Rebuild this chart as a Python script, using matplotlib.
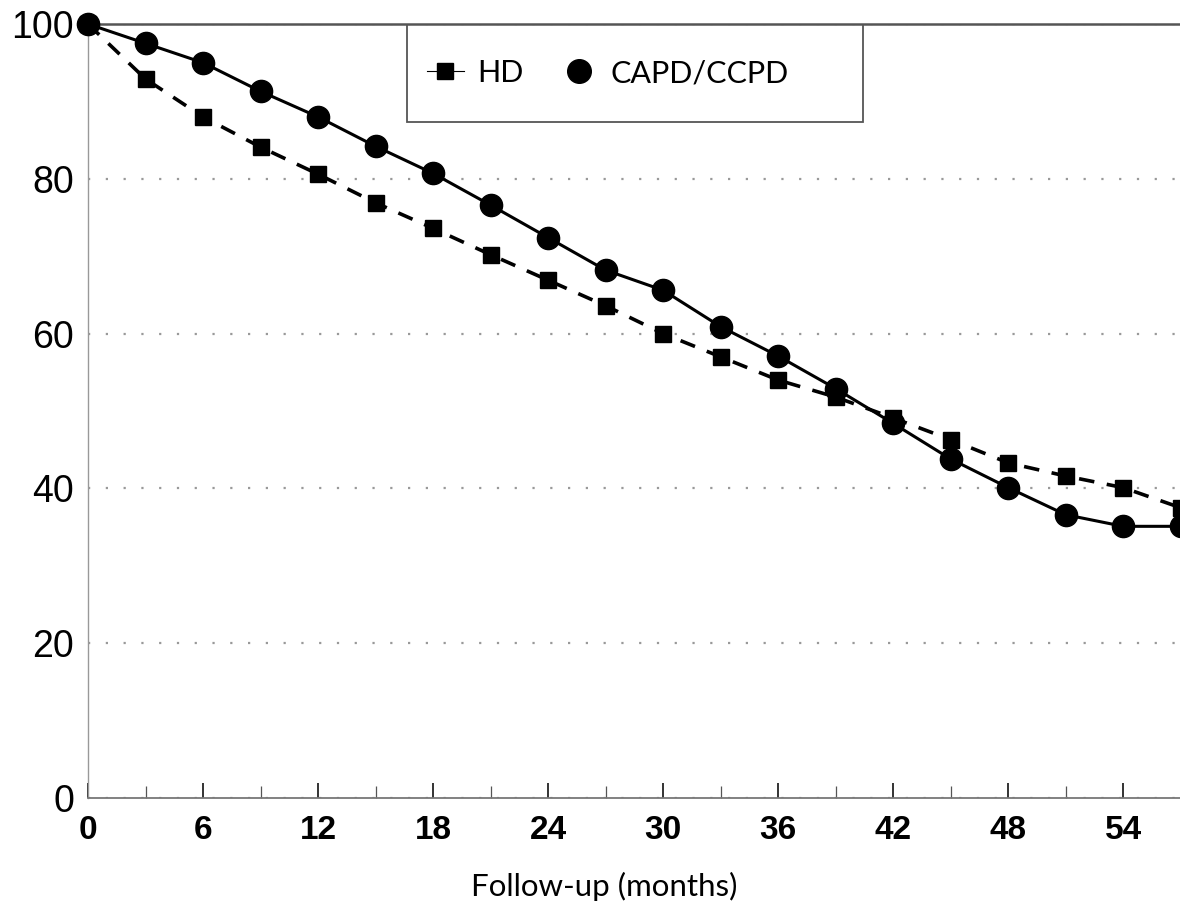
"""
Survival curves: HD vs CAPD/CCPD over follow-up months
"""

import matplotlib.pyplot as plt
from matplotlib.lines import Line2D
from matplotlib.patches import Rectangle
from matplotlib.ticker import MultipleLocator

# Data

MONTHS = [0, 3, 6, 9, 12, 15, 18, 21, 24, 27, 30, 33, 36, 39, 42, 45, 48,
          51, 54, 57]
HD = [100, 92.9, 88.0, 84.1, 80.6, 76.9, 73.6, 70.2, 66.9, 63.6, 60.0, 57.0,
      54.0, 51.8, 49.1, 46.3, 43.3, 41.6, 40.1, 37.5]
CAPD = [100, 97.5, 95.0, 91.3, 88.0, 84.2, 80.7, 76.6, 72.4, 68.2, 65.6,
        60.9, 57.1, 52.9, 48.4, 43.8, 40.1, 36.6, 35.1, 35.1]

X_TICKS = [0, 6, 12, 18, 24, 30, 36, 42, 48, 54]
Y_TICKS = [0, 20, 40, 60, 80, 100]
LABELS = ['HD', 'CAPD/CCPD']

# Figure

fig = plt.figure(figsize=(11.8, 9.08), dpi=100)
ax = fig.add_axes([88 / 1180, 110 / 908, 1092 / 1180, 774 / 908])

ax.plot(MONTHS, HD, c='black', linewidth=2.6, dashes=[4.3, 3.5],
        marker='s', markersize=11, clip_on=False, zorder=3)
ax.plot(MONTHS, CAPD, c='black', linewidth=2.2, marker='o',
        markersize=16, clip_on=False, zorder=4)

ax.set_xlim(0, 1092 / 19.17)
ax.set_ylim(0, 100)

ax.set_xticks(X_TICKS)
ax.xaxis.set_minor_locator(MultipleLocator(3))
ax.set_yticks(Y_TICKS)
ax.set_yticklabels([str(v) for v in Y_TICKS], fontsize=27,
                   family='Liberation Sans')
ax.set_xticklabels([str(v) for v in X_TICKS], fontsize=24,
                   family='Liberation Sans', fontweight='bold')

ax.tick_params(axis='x', which='major', direction='in', length=11,
               width=1.4, color='#333333', pad=12)
ax.tick_params(axis='x', which='minor', direction='in', length=8.5,
               width=0.9, color='#555555')
ax.tick_params(axis='y', length=0, pad=10)

ax.yaxis.grid(True, color='#999999', linestyle=(0, (1, 7)), linewidth=1.6)
ax.set_axisbelow(True)

ax.spines['right'].set_visible(False)
ax.spines['top'].set_color('#555555')
ax.spines['top'].set_linewidth(1.8)
ax.spines['left'].set_color('#999999')
ax.spines['left'].set_linewidth(1.0)
ax.spines['bottom'].set_color('#777777')
ax.spines['bottom'].set_linewidth(1.3)

ax.set_xlabel('Follow-up (months)', fontsize=22.5, family='Lato')
ax.xaxis.set_label_coords(516 / 1092, -74 / 774)

# Legend box hanging from the top spine

ax.add_patch(Rectangle((319 / 1092, 676 / 774), 456 / 1092, 98 / 774,
                       transform=ax.transAxes, fill=False,
                       edgecolor='#555555', linewidth=1.3, zorder=5))

HANDLES = [Line2D([], [], c='black', linewidth=0.8, marker='s',
                  markersize=11.5),
           Line2D([], [], linestyle='none', c='black', marker='o',
                  markersize=17)]
ax.legend(HANDLES, LABELS, ncol=2, loc='center', frameon=False,
          bbox_to_anchor=(520 / 1092, 725 / 774),
          prop={'family': 'Lato', 'size': 22},
          handlelength=1.2, handletextpad=0.45, columnspacing=1.2,
          borderpad=0, borderaxespad=0)

plt.savefig('out.png', dpi=100)
